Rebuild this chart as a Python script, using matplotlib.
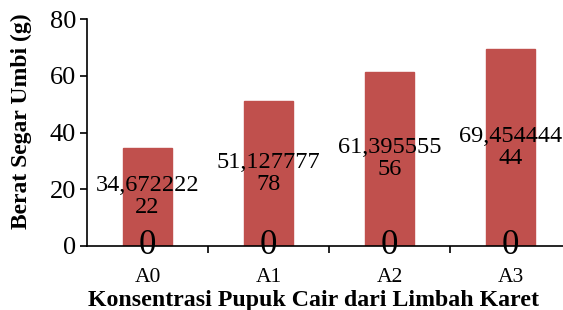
import matplotlib
matplotlib.use("Agg")
import matplotlib.pyplot as plt
from matplotlib.ticker import FixedLocator

categories = ["A0", "A1", "A2", "A3"]
values = [34.67222222, 51.12777778, 61.39555556, 69.45444444]
label_texts = ["34,672222\n22", "51,127777\n78", "61,395555\n56", "69,454444\n44"]
zero_labels = ["0", "0", "0", "0"]

plt.rcParams['font.family'] = ['Liberation Serif', 'DejaVu Serif']

fig = plt.figure(figsize=(5.63, 3.10), dpi=100)
ax = fig.add_axes([87/563, 1-246/310, 1-87/563, (246-19)/310])

x = list(range(len(categories)))
ax.bar(x, values, width=0.4, color="#C0504D", edgecolor="#C0504D", zorder=2)

for xi, v, t, z in zip(x, values, label_texts, zero_labels):
    ax.text(xi, v/2, t, ha="center", va="center", fontsize=17.5, linespacing=1.05, zorder=3)
    ax.text(xi, 0, z, ha="center", va="center", fontsize=25, zorder=3)

ax.set_xlim(-0.5, (563-87)/121 - 0.5)
ax.set_ylim(0, 80)
ax.set_yticks([0, 20, 40, 60, 80])
ax.tick_params(axis="y", labelsize=19, length=5, width=1.2, direction="out", pad=3)
ax.set_xticks(x)
ax.set_xticklabels(categories)
ax.tick_params(axis="x", which="major", length=0, labelsize=15.5, pad=16)
ax.xaxis.set_minor_locator(FixedLocator([0.5, 1.5, 2.5]))
ax.tick_params(axis="x", which="minor", length=5, width=1.2, direction="out")

for s in ["top", "right"]:
    ax.spines[s].set_visible(False)
for s in ["left", "bottom"]:
    ax.spines[s].set_linewidth(1.2)

ax.set_xlabel("Konsentrasi Pupuk Cair dari Limbah Karet", fontsize=17.2, fontweight="bold", va="center")
ax.xaxis.set_label_coords(0.475, -0.24)
ax.set_ylabel("Berat Segar Umbi (g)", fontsize=17, fontweight="bold", va="center")
ax.yaxis.set_label_coords(-0.137, 0.548)

fig.savefig("out.png", dpi=100)
